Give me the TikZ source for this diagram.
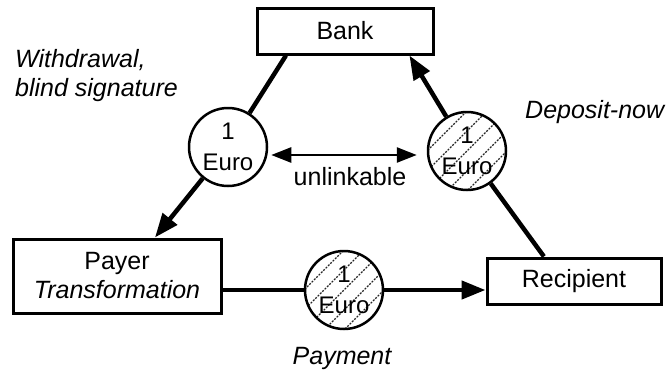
\documentclass[tikz,border=0pt]{standalone}
\usepackage{fontspec}
\setmainfont{Liberation Sans}
\usetikzlibrary{arrows.meta,calc}

\begin{document}
\begin{tikzpicture}[x=1pt,y=-1pt,
  every node/.style={font=\fontsize{25}{29}\selectfont, inner sep=0pt},
  party/.style={draw, line width=3pt, align=center},
  coin/.style={draw, circle, line width=2.5pt, minimum size=78pt, align=center,
    font=\fontsize{24}{31}\selectfont},
  hatched/.style={path picture={
    \foreach \d in {-100,-80,...,100}{
      \draw[line width=1.1pt, dash pattern=on 2pt off 1.3pt, black!85]
        ($(path picture bounding box.center)+(\d-60,60)$) -- ++(120,-120);
    }}},
  link/.style={line width=4.5pt},
  flow/.style={line width=4.5pt, -{Triangle[length=24pt,width=18pt]}},
  both/.style={line width=2.5pt, {Triangle[length=20pt,width=15pt]}-{Triangle[length=20pt,width=15pt]}},
  caption/.style={font=\fontsize{25}{29}\selectfont\itshape}
]
\useasboundingbox (0,0) rectangle (672,373);

% parties
\node[party, minimum width=176pt, minimum height=46pt] (bank) at (345,31) {Bank};
\node[party, minimum width=208pt, minimum height=74pt] (payer) at (117,276)
  {Payer\\\textit{Transformation}};
\node[party, minimum width=174pt, minimum height=46pt] (recip) at (574,281) {Recipient};

% coins
\node[coin] (c1) at (228,147) {1\\Euro};
\node[coin, hatched] (c2) at (467,151) {1\\Euro};
\node[coin, hatched] (c3) at (344,290) {1\\Euro};

% withdrawal
\draw[link] ($(bank.south west)!0.17!(bank.south east)$) -- (c1);
\draw[flow] (c1) -- ($(payer.north west)!0.68!(payer.north east)$);

% payment
\draw[link] (payer.east |- c3) -- (c3);
\draw[flow] (c3) -- (recip.west |- c3);

% deposit
\draw[link] ($(recip.north west)!0.33!(recip.north east)$) -- (c2);
\draw[flow] (c2) -- ($(bank.south west)!0.86!(bank.south east)$);

% unlinkability
\draw[both] ([shift={(3,8)}]c1.east) -- ([shift={(-10,4)}]c2.west);
\node (unl) at (350,177) {unlinkable};

% captions
\node[caption, anchor=west, align=left] (wd) at (15,76) {Withdrawal,\\blind signature};
\node[caption, anchor=west] (dep) at (525,112) {Deposit-now};
\node[caption] (pay) at (342,358) {Payment};
\end{tikzpicture}
\end{document}
